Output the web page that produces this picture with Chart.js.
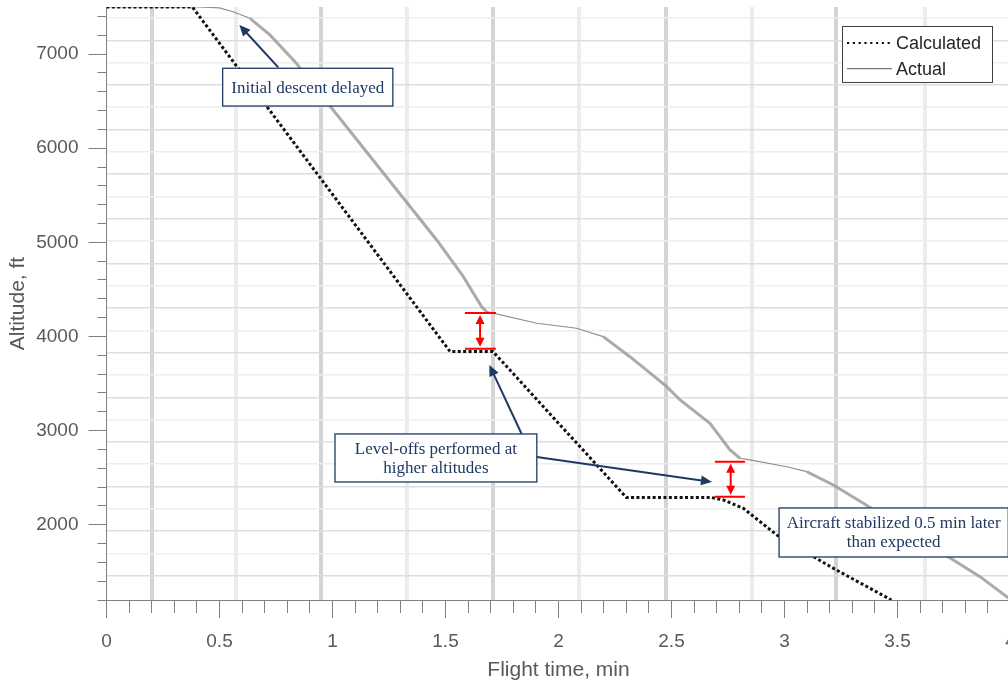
<!DOCTYPE html>
<html>
<head>
<meta charset="utf-8">
<script src="https://cdn.jsdelivr.net/npm/chart.js@4.4.1/dist/chart.umd.min.js"></script>
<style>
  html, body { margin: 0; padding: 0; overflow: hidden; background: #fff; }
  #wrap { width: 1016px; height: 684px; }
</style>
</head>
<body>
<div id="wrap"><canvas id="altChart" width="1016" height="684"></canvas></div>
<script>
// calculated descent profile (min, ft)
const calcTime = [0, 0.38, 1.52, 1.71, 2.30, 2.675, 2.73, 2.818, 2.966, 3.216, 3.473];
const calcAlt  = [7500, 7500, 3840, 3840, 2290, 2290, 2263, 2174, 1891, 1537, 1200];

// actual (recorded) profile
const actTime = [0, 0.41, 0.50, 0.56, 0.635, 0.723, 0.834, 1.003, 1.461, 1.579, 1.660, 1.682,
                 1.904, 2.08, 2.198, 2.316, 2.479, 2.538, 2.67, 2.759, 2.803, 2.847, 3.01,
                 3.098, 3.216, 3.349, 3.629, 3.865, 4.0];
const actAlt  = [7500, 7500, 7490, 7450, 7380, 7203, 6919, 6406, 5025, 4635, 4316, 4263,
                 4140, 4087, 3998, 3785, 3466, 3325, 3077, 2794, 2706, 2688, 2616,
                 2563, 2422, 2227, 1802, 1448, 1205];

// labelled ticks
const xMajor = [0, 0.5, 1, 1.5, 2, 2.5, 3, 3.5, 4];
const yMajor = [2000, 3000, 4000, 5000, 6000, 7000];

// background lines of the original plot
const vBands = [0.2, 0.575, 0.95, 1.33, 1.71, 2.09, 2.475, 2.855, 3.23, 3.62];
const hLines = [7383, 7146, 6909, 6672, 6435, 6198, 5961, 5724, 5487, 5250, 5013, 4776, 4539,
                4302, 4065, 3828, 3591, 3354, 3117, 2880, 2643, 2406, 2169, 1932, 1695, 1458];

// annotations
const noteBoxes = [
  { lines: ['Initial descent delayed'], t0: 0.514, t1: 1.267, a0: 6849, a1: 6448 },
  { lines: ['Level-offs performed at', 'higher altitudes'], t0: 1.011, t1: 1.904, a0: 2964, a1: 2454 },
  { lines: ['Aircraft stabilized 0.5 min later', 'than expected'], t0: 2.976, t1: 3.99, a0: 2178, a1: 1657 }
];
const noteArrows = [
  [0.760, 6859, 0.588, 7309],
  [1.837, 2964, 1.694, 3697],
  [1.904, 2719, 2.679, 2454]
];
const gapMarks = [
  { t0: 1.586, t1: 1.723, tm: 1.653, hi: 4250, lo: 3870 },
  { t0: 2.692, t1: 2.825, tm: 2.762, hi: 2670, lo: 2298 }
];

const FONT = "'Liberation Sans', Arial, sans-serif";
const SERIF = "'Liberation Serif', 'Times New Roman', serif";
const AXIS_GRAY = '#808080';
const TEXT_GRAY = '#595959';
const NAVY = '#1f3864';

const toPoints = (xs, ys) => xs.map((t, i) => ({ x: t, y: ys[i] }));
const isMajor = (list, v) => list.some(m => Math.abs(m - v) < 1e-6);
const slope = c => Math.abs((c.p1.parsed.y - c.p0.parsed.y) / (c.p1.parsed.x - c.p0.parsed.x));

function arrowHead(ctx, x0, y0, x1, y1, len, half) {
  const a = Math.atan2(y1 - y0, x1 - x0);
  const c = Math.cos(a), s = Math.sin(a);
  ctx.beginPath();
  ctx.moveTo(x1, y1);
  ctx.lineTo(x1 - len * c + half * s, y1 - len * s - half * c);
  ctx.lineTo(x1 - len * c - half * s, y1 - len * s + half * c);
  ctx.closePath();
  ctx.fill();
}

function arrow(ctx, x0, y0, x1, y1, len, half) {
  const a = Math.atan2(y1 - y0, x1 - x0);
  ctx.beginPath();
  ctx.moveTo(x0, y0);
  ctx.lineTo(x1 - len * 0.8 * Math.cos(a), y1 - len * 0.8 * Math.sin(a));
  ctx.stroke();
  arrowHead(ctx, x0, y0, x1, y1, len, half);
}

const notes = {
  id: 'notes',
  afterDatasetsDraw(chart) {
    const { ctx, scales: { x, y } } = chart;
    const px = v => x.getPixelForValue(v), py = v => y.getPixelForValue(v);
    ctx.save();

    // red altitude gaps
    ctx.strokeStyle = '#ff0000';
    ctx.fillStyle = '#ff0000';
    ctx.lineWidth = 2;
    gapMarks.forEach(g => {
      const yh = py(g.hi), yl = py(g.lo), xm = px(g.tm);
      ctx.beginPath();
      ctx.moveTo(px(g.t0), yh); ctx.lineTo(px(g.t1), yh);
      ctx.moveTo(px(g.t0), yl); ctx.lineTo(px(g.t1), yl);
      ctx.moveTo(xm, yh + 8); ctx.lineTo(xm, yl - 8);
      ctx.stroke();
      arrowHead(ctx, xm, yl, xm, yh + 2, 9, 4.5);
      arrowHead(ctx, xm, yh, xm, yl - 2, 9, 4.5);
    });

    // navy pointers
    ctx.strokeStyle = NAVY;
    ctx.fillStyle = NAVY;
    ctx.lineWidth = 2;
    noteArrows.forEach(a => arrow(ctx, px(a[0]), py(a[1]), px(a[2]), py(a[3]), 11, 5));

    // text boxes
    ctx.font = '17px ' + SERIF;
    ctx.textAlign = 'center';
    ctx.textBaseline = 'middle';
    noteBoxes.forEach(b => {
      const l = px(b.t0), r = px(b.t1), t = py(b.a0), bt = py(b.a1);
      ctx.fillStyle = '#fff';
      ctx.fillRect(l, t, r - l, bt - t);
      ctx.strokeStyle = NAVY;
      ctx.lineWidth = 1.3;
      ctx.strokeRect(l, t, r - l, bt - t);
      ctx.fillStyle = NAVY;
      const mid = (t + bt) / 2, lh = 19;
      b.lines.forEach((s, i) => {
        ctx.fillText(s, (l + r) / 2, mid + (i - (b.lines.length - 1) / 2) * lh + 1);
      });
    });
    ctx.restore();
  }
};

const boxLegend = {
  id: 'boxLegend',
  afterDraw(chart) {
    const { ctx, chartArea } = chart;
    const w = 150, h = 56;
    const left = chartArea.right - 168.5, top = chartArea.top + 19;
    ctx.save();
    ctx.fillStyle = '#fff';
    ctx.fillRect(left, top, w, h);
    ctx.strokeStyle = '#404040';
    ctx.lineWidth = 1;
    ctx.strokeRect(left + 0.5, top + 0.5, w, h);
    ctx.font = '18px ' + FONT;
    ctx.textBaseline = 'middle';
    ctx.textAlign = 'left';
    chart.data.datasets.forEach((ds, i) => {
      const yy = top + 17 + i * 25.6;
      ctx.beginPath();
      ctx.strokeStyle = ds.legendColor;
      ctx.lineWidth = ds.legendWidth;
      ctx.setLineDash(ds.legendDash);
      ctx.moveTo(left + 5, yy);
      ctx.lineTo(left + 50, yy);
      ctx.stroke();
      ctx.setLineDash([]);
      ctx.fillStyle = '#262626';
      ctx.fillText(ds.label, left + 54, yy + 1);
    });
    ctx.restore();
  }
};

new Chart(document.getElementById('altChart'), {
  type: 'line',
  data: {
    datasets: [
      {
        label: 'Calculated',
        data: toPoints(calcTime, calcAlt),
        borderColor: '#111',
        borderWidth: 3,
        borderDash: [3, 2.4],
        pointRadius: 0,
        tension: 0,
        order: 1,
        legendColor: '#111', legendWidth: 2.2, legendDash: [2.2, 3.6]
      },
      {
        label: 'Actual',
        data: toPoints(actTime, actAlt),
        borderColor: '#8f8f8f',
        borderWidth: 1.2,
        pointRadius: 0,
        tension: 0,
        order: 2,
        segment: {
          borderWidth: c => slope(c) > 1000 ? 3 : 1.2,
          borderColor: c => slope(c) > 1000 ? 'rgba(150,150,150,0.8)' : '#8f8f8f'
        },
        legendColor: '#7a7a7a', legendWidth: 1.3, legendDash: []
      }
    ]
  },
  options: {
    responsive: false,
    animation: false,
    layout: { padding: { left: 1, top: 7, right: 5.5, bottom: 0 } },
    plugins: { legend: { display: false }, tooltip: { enabled: false } },
    scales: {
      x: {
        type: 'linear', min: 0, max: 4,
        ticks: {
          stepSize: 0.1, autoSkip: false, maxRotation: 0, includeBounds: false, padding: 12,
          color: TEXT_GRAY, font: { family: FONT, size: 19 },
          callback: v => isMajor(xMajor, v) ? String(xMajor.find(m => Math.abs(m - v) < 1e-6)) : ''
        },
        grid: {
          drawOnChartArea: false, tickLength: 18, tickColor: AXIS_GRAY, tickWidth: 1,
          tickBorderDash: c => (c.tick && !isMajor(xMajor, c.tick.value)) ? [12, 100] : []
        },
        border: { color: AXIS_GRAY, width: 1 },
        title: {
          display: true, text: 'Flight time, min', color: TEXT_GRAY,
          font: { family: FONT, size: 21 }, padding: { top: 6, bottom: 1 }
        },
        afterFit: s => { s.paddingLeft = 0; s.paddingRight = 0; s.height = 84; }
      },
      y: {
        type: 'linear', min: 1200, max: 7500,
        ticks: {
          stepSize: 200, includeBounds: false, padding: 10, autoSkip: false,
          color: TEXT_GRAY, font: { family: FONT, size: 19 },
          callback: v => isMajor(yMajor, v) ? String(v) : ''
        },
        grid: {
          drawOnChartArea: false, tickLength: 18, tickColor: AXIS_GRAY, tickWidth: 1,
          tickBorderDash: c => (c.tick && !isMajor(yMajor, c.tick.value)) ? [0, 9, 9, 100] : []
        },
        border: { color: AXIS_GRAY, width: 1 },
        title: {
          display: true, text: 'Altitude, ft', color: TEXT_GRAY,
          font: { family: FONT, size: 21 }, padding: { top: 5, bottom: 7 }
        },
        afterFit: s => { s.paddingTop = 0; s.paddingBottom = 0; s.width = 105.5; }
      },
      xg: {
        type: 'linear', position: 'top', min: 0, max: 4,
        ticks: { display: false },
        border: { display: false },
        grid: { drawTicks: false, lineWidth: 4, color: c => c.index % 2 ? '#ececec' : '#d4d4d4' },
        afterBuildTicks: s => { s.ticks = vBands.map(v => ({ value: v })); }
      },
      yg: {
        type: 'linear', position: 'right', min: 1200, max: 7500,
        ticks: { display: false },
        border: { display: false },
        grid: { drawTicks: false, lineWidth: 1.5, color: c => c.index % 2 ? '#dedede' : '#eeeeee' },
        afterBuildTicks: s => { s.ticks = hLines.map(v => ({ value: v })); }
      }
    }
  },
  plugins: [notes, boxLegend]
});
</script>
</body>
</html>
